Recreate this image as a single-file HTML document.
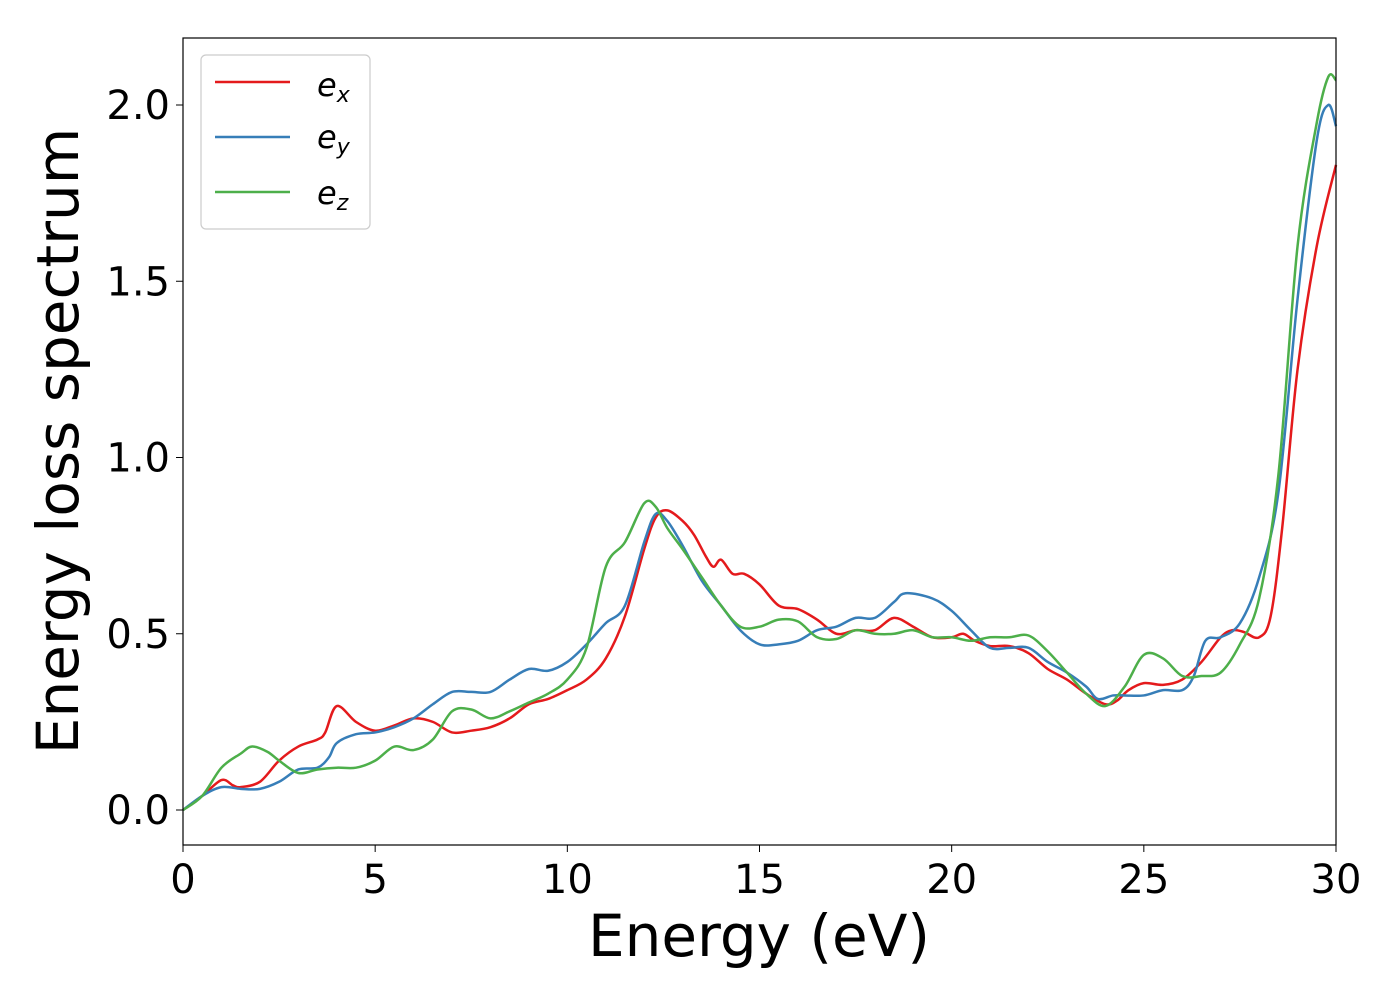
<!DOCTYPE html>
<html><head><meta charset="utf-8"><style>
body{margin:0;background:#fff;}
svg{display:block;font-family:"DejaVu Sans","Liberation Sans",sans-serif;}
</style></head><body>
<svg id="chart" width="1400" height="1000">
<rect x="0" y="0" width="1400" height="1000" fill="#fff"/>
<g id="series"></g>
<rect x="183" y="38" width="1153" height="807" fill="none" stroke="#000" stroke-width="1.2"/>
<g id="xticks"></g>
<g id="yticks"></g>
<text x="759" y="956" font-size="58" text-anchor="middle">Energy (eV)</text>
<text transform="translate(78,441) rotate(-90)" font-size="58" text-anchor="middle">Energy loss spectrum</text>
<g>
<rect x="201" y="55" width="169" height="174" rx="5" fill="#fff" stroke="#ccc" stroke-width="1.2"/>
<g><line x1="215" y1="82" x2="290" y2="82" stroke="#e41a1c" stroke-width="2.5"/><text x="317" y="96" font-size="32" font-style="italic">e<tspan font-size="22" dy="6">x</tspan></text></g>
<g><line x1="215" y1="137" x2="290" y2="137" stroke="#377eb8" stroke-width="2.5"/><text x="317" y="148" font-size="32" font-style="italic">e<tspan font-size="22" dy="6">y</tspan></text></g>
<g><line x1="215" y1="192" x2="290" y2="192" stroke="#4daf4a" stroke-width="2.5"/><text x="317" y="204" font-size="32" font-style="italic">e<tspan font-size="22" dy="6">z</tspan></text></g>
</g>
</svg>
<script>
const xTicks=[0,5,10,15,20,25,30];
const yTicks=[0.0,0.5,1.0,1.5,2.0];
const yTickLabels=["0.0","0.5","1.0","1.5","2.0"];
const exX=[0,0.5,1,1.3,1.5,2,2.5,3,3.5,3.7,4,4.5,5,5.5,6,6.5,7,7.5,8,8.5,9,9.5,10,10.5,11,11.5,12,12.3,12.6,13,13.3,13.6,13.8,14,14.3,14.6,15,15.5,16,16.5,17,17.5,18,18.5,19,19.5,20,20.3,20.6,21,21.5,22,22.5,23,23.5,24,24.3,24.6,25,25.5,26,26.5,27,27.3,27.6,28,28.3,28.6,29,29.5,30];
const exY=[0,0.04,0.085,0.07,0.065,0.08,0.14,0.18,0.2,0.22,0.295,0.25,0.225,0.24,0.26,0.25,0.22,0.225,0.235,0.26,0.3,0.315,0.34,0.37,0.43,0.55,0.74,0.83,0.85,0.82,0.78,0.72,0.69,0.71,0.67,0.67,0.64,0.58,0.57,0.54,0.5,0.51,0.51,0.545,0.52,0.49,0.49,0.5,0.48,0.465,0.465,0.445,0.4,0.37,0.33,0.3,0.31,0.34,0.36,0.355,0.37,0.42,0.49,0.51,0.505,0.49,0.55,0.8,1.25,1.6,1.83];
const eyX=[0,0.5,1,1.5,2,2.5,3,3.5,3.8,4,4.5,5,5.5,6,6.5,7,7.5,8,8.5,9,9.5,10,10.5,11,11.5,12,12.3,12.6,13,13.5,14,14.5,15,15.5,16,16.5,17,17.5,18,18.5,18.8,19.5,20,20.5,21,21.5,22,22.5,23,23.5,23.8,24.2,24.5,25,25.5,26,26.3,26.6,27,27.5,28,28.5,29,29.5,29.8,30];
const eyY=[0,0.04,0.065,0.06,0.06,0.08,0.115,0.12,0.15,0.19,0.215,0.22,0.235,0.26,0.3,0.335,0.335,0.335,0.37,0.4,0.395,0.42,0.47,0.53,0.58,0.76,0.84,0.82,0.75,0.65,0.58,0.51,0.47,0.47,0.48,0.51,0.52,0.545,0.545,0.59,0.615,0.6,0.565,0.51,0.46,0.46,0.46,0.42,0.39,0.35,0.315,0.325,0.325,0.325,0.34,0.34,0.38,0.48,0.49,0.53,0.66,0.9,1.45,1.9,2.0,1.94];
const ezX=[0,0.5,1,1.5,1.8,2.2,2.5,3,3.5,4,4.5,5,5.5,6,6.5,7,7.5,8,8.5,9,9.5,10,10.5,11,11.5,12,12.3,12.6,13,13.5,14,14.5,15,15.5,16,16.5,17,17.5,18,18.5,19,19.5,20,20.5,21,21.5,22,22.5,23,23.5,24,24.5,25,25.5,26,26.5,27,27.5,28,28.5,29,29.5,29.8,30];
const ezY=[0,0.04,0.12,0.16,0.18,0.165,0.14,0.105,0.115,0.12,0.12,0.14,0.18,0.17,0.2,0.28,0.285,0.26,0.28,0.305,0.33,0.37,0.46,0.69,0.76,0.87,0.86,0.8,0.74,0.66,0.58,0.52,0.52,0.54,0.535,0.49,0.485,0.51,0.5,0.5,0.51,0.49,0.49,0.48,0.49,0.49,0.495,0.45,0.39,0.33,0.295,0.35,0.44,0.43,0.38,0.38,0.39,0.47,0.6,0.95,1.6,1.95,2.08,2.07];
const NS='http://www.w3.org/2000/svg';
const xs=v=>183+v*(1336-183)/30;
const ys=v=>810-v*352.5;
function pathFor(X,Y){
  const p=X.map((x,i)=>[xs(x),ys(Y[i])]);
  let d='M'+p[0][0]+','+p[0][1];
  for(let i=0;i<p.length-1;i++){
    const p0=p[Math.max(0,i-1)],p1=p[i],p2=p[i+1],p3=p[Math.min(p.length-1,i+2)];
    const c1=[p1[0]+(p2[0]-p0[0])/6,p1[1]+(p2[1]-p0[1])/6];
    const c2=[p2[0]-(p3[0]-p1[0])/6,p2[1]-(p3[1]-p1[1])/6];
    d+=' C'+c1+' '+c2+' '+p2;
  }
  return d;
}
const sg=document.getElementById('series');
[[exX,exY,'#e41a1c','line-ex'],[eyX,eyY,'#377eb8','line-ey'],[ezX,ezY,'#4daf4a','line-ez']].forEach(s=>{
  const el=document.createElementNS(NS,'path');
  el.setAttribute('d',pathFor(s[0],s[1]));
  el.setAttribute('fill','none');
  el.setAttribute('stroke',s[2]);
  el.setAttribute('stroke-width','2.5');
  
  
  sg.appendChild(el);
});
const xg=document.getElementById('xticks');
xTicks.forEach(t=>{
  const l=document.createElementNS(NS,'line');
  l.setAttribute('x1',xs(t));l.setAttribute('x2',xs(t));l.setAttribute('y1',845);l.setAttribute('y2',852);
  l.setAttribute('stroke','#000');
  
  
  xg.appendChild(l);
  const tx=document.createElementNS(NS,'text');
  tx.setAttribute('x',xs(t));tx.setAttribute('y',893);tx.setAttribute('font-size','40');tx.setAttribute('text-anchor','middle');
  tx.textContent=t;
  
  
  xg.appendChild(tx);
});
const yg=document.getElementById('yticks');
yTicks.forEach((t,i)=>{
  const l=document.createElementNS(NS,'line');
  l.setAttribute('x1',176);l.setAttribute('x2',183);l.setAttribute('y1',ys(t));l.setAttribute('y2',ys(t));
  l.setAttribute('stroke','#000');
  
  
  yg.appendChild(l);
  const tx=document.createElementNS(NS,'text');
  tx.setAttribute('x',170);tx.setAttribute('y',ys(t)+14);tx.setAttribute('font-size','40');tx.setAttribute('text-anchor','end');
  tx.textContent=yTickLabels[i];
  
  
  yg.appendChild(tx);
});
</script>
</body></html>
